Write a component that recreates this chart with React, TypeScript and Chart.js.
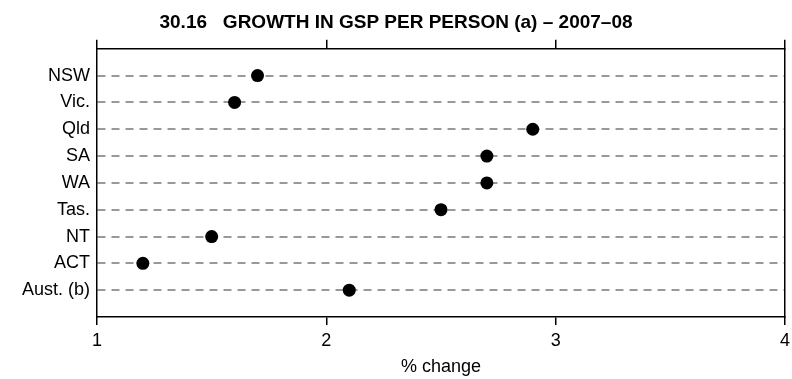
import React, { useEffect, useRef } from "react";
import { Chart, registerables } from "chart.js";

Chart.register(...registerables);

const categories = ["NSW", "Vic.", "Qld", "SA", "WA", "Tas.", "NT", "ACT", "Aust. (b)"];
const growth = [1.7, 1.6, 2.9, 2.7, 2.7, 2.5, 1.5, 1.2, 2.1];
const xTicks = [1, 2, 3, 4];
const titleText = "30.16   GROWTH IN GSP PER PERSON (a) \u2013 2007\u201308";
const xTitle = "% change";

const LABEL_FONT = "'Liberation Sans', Arial, sans-serif";
const TITLE_FONT = "'Liberation Sans Narrow', 'Arial Narrow', 'Liberation Sans', sans-serif";

export default function App() {
  const ref = useRef<HTMLCanvasElement | null>(null);

  useEffect(() => {
    document.body.style.margin = "0";
    const canvas = ref.current;
    if (!canvas) return;
    const labels = ["", ...categories, ""];
    const values = [null, ...growth, null];
    const last = labels.length - 1;
    const chart = new Chart(canvas, {
      type: "line",
      data: {
        labels,
        datasets: [
          {
            data: values,
            showLine: false,
            pointRadius: 6.5,
            pointHoverRadius: 6.5,
            pointBackgroundColor: "#000",
            pointBorderColor: "#000",
            pointBorderWidth: 0,
          },
        ],
      },
      options: {
        indexAxis: "y",
        animation: false,
        responsive: false,
        maintainAspectRatio: false,
        layout: { autoPadding: false, padding: { left: 0, right: 0, top: 0, bottom: 0 } },
        plugins: {
          legend: { display: false },
          tooltip: { enabled: false },
          title: {
            display: true,
            text: titleText,
            color: "#000",
            font: { family: TITLE_FONT, size: 19, weight: "bold", lineHeight: 1.2 },
            padding: { top: 11, bottom: 0 },
          },
        },
        scales: {
          x: {
            type: "linear",
            position: "bottom",
            min: 1,
            max: 4,
            afterBuildTicks: (s: any) => {
              s.ticks = xTicks.map((v) => ({ value: v }));
            },
            afterFit: (s: any) => {
              s.height = 62;
              s.paddingLeft = 0;
              s.paddingRight = 0;
            },
            ticks: {
              color: "#000",
              font: { family: LABEL_FONT, size: 18 },
              padding: 5,
              maxRotation: 0,
            },
            grid: {
              drawOnChartArea: false,
              drawTicks: true,
              tickLength: 8,
              color: "#000",
              lineWidth: 1.5,
            },
            border: { display: true, color: "#000", width: 1.5 },
            title: {
              display: true,
              text: xTitle,
              color: "#000",
              font: { family: LABEL_FONT, size: 18, lineHeight: 1.2 },
              padding: { top: 0, bottom: 1 },
            },
          },
          x2: {
            type: "linear",
            position: "top",
            min: 1,
            max: 4,
            afterBuildTicks: (s: any) => {
              s.ticks = xTicks.map((v) => ({ value: v }));
            },
            afterFit: (s: any) => {
              s.height = 15;
              s.paddingLeft = 0;
              s.paddingRight = 0;
            },
            ticks: { display: false },
            grid: {
              drawOnChartArea: false,
              drawTicks: true,
              tickLength: 9,
              color: "#000",
              lineWidth: 1.5,
            },
            border: { display: true, color: "#000", width: 1.5 },
          },
          y: {
            type: "category",
            position: "left",
            offset: false,
            afterFit: (s: any) => {
              s.width = 97;
              s.paddingTop = 0;
              s.paddingBottom = 0;
            },
            ticks: {
              color: "#000",
              font: { family: LABEL_FONT, size: 18 },
              padding: 7,
              autoSkip: false,
            },
            grid: {
              drawTicks: false,
              color: (c: any) => (c.index === 0 || c.index === last ? "rgba(0,0,0,0)" : "#999999"),
              lineWidth: 2,
            },
            border: { display: true, color: "#000", width: 1.5, dash: [8, 6] },
          },
          y2: {
            type: "category",
            position: "right",
            offset: false,
            labels,
            afterFit: (s: any) => {
              s.width = 7;
              s.paddingTop = 0;
              s.paddingBottom = 0;
            },
            ticks: { display: false },
            grid: { display: false, drawTicks: false },
            border: { display: true, color: "#000", width: 1.5 },
          },
        },
      },
    });
    return () => chart.destroy();
  }, []);

  return (
    <div style={{ width: 792, height: 379, background: "#fff" }}>
      <canvas ref={ref} width={792} height={379} style={{ display: "block" }} />
    </div>
  );
}
